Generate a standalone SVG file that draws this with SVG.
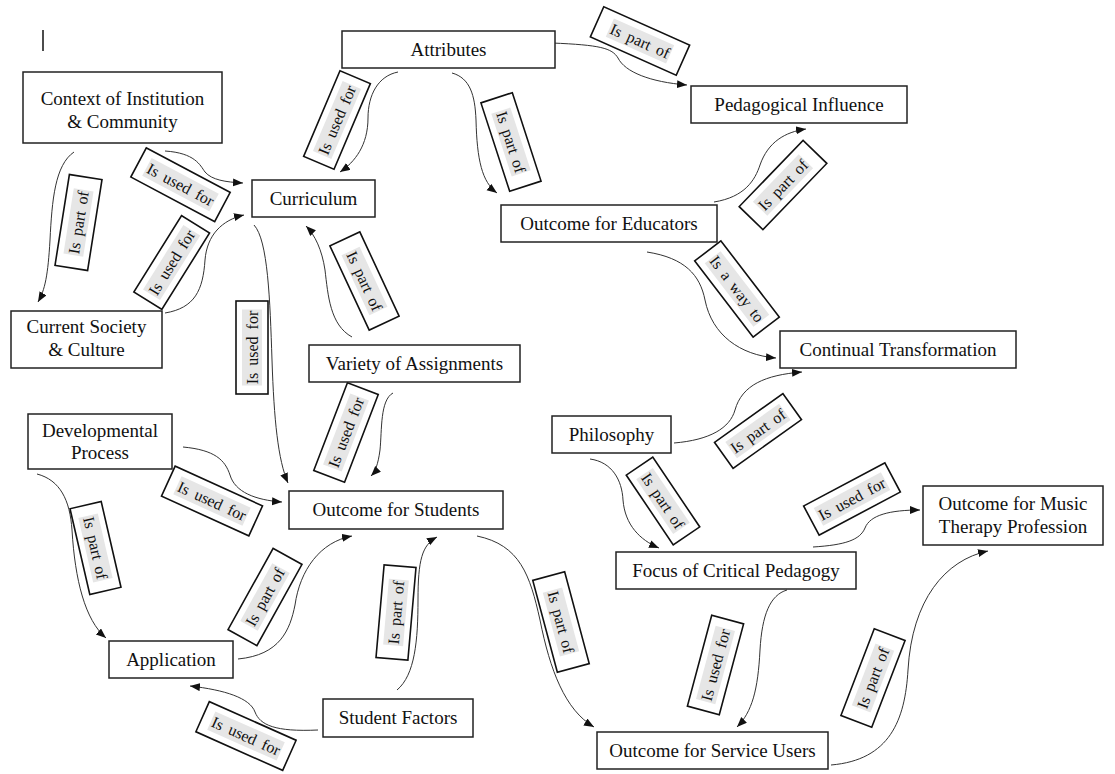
<svg xmlns="http://www.w3.org/2000/svg" width="1115" height="774" viewBox="0 0 1115 774">
<style>
.nb{fill:#fff;stroke:#222;stroke-width:1.5}
.nt{font-family:"Liberation Serif","Times New Roman",serif;font-size:19px;fill:#111;text-anchor:middle}
.lb{fill:#fff;stroke:#111;stroke-width:1.6}
.hl{fill:#e6e6e6}
.lt{font-family:"Liberation Serif","Times New Roman",serif;font-size:16px;fill:#111;text-anchor:middle;word-spacing:3px}
.cn{fill:none;stroke:#333;stroke-width:1;marker-end:url(#ah)}
</style>
<defs>
<marker id="ah" markerUnits="userSpaceOnUse" markerWidth="11" markerHeight="9" refX="10" refY="4" orient="auto" viewBox="0 0 11 9">
<path d="M0,0 L10,4 L0,8 z" fill="#111"/>
</marker>
</defs>
<rect width="1115" height="774" fill="#fff"/>
<line x1="43" y1="30" x2="43" y2="51" stroke="#111" stroke-width="1.5"/>

<g id="connectors">
<path class="cn" d="M398,72 C378,76 368,95 368,118 C368,145 355,162 340,172"/>
<path class="cn" d="M452,73 C470,78 475,95 476,120 C477,160 482,182 497,193"/>
<path class="cn" d="M552,43 C600,45 612,48 618,58 C625,72 650,82 687,85"/>
<path class="cn" d="M165,151 C195,153 200,165 205,172 C212,180 225,182 243,183"/>
<path class="cn" d="M165,313 C195,308 203,290 205,260 C207,235 222,220 244,215"/>
<path class="cn" d="M74,152 C55,165 52,200 50,240 C48,275 45,290 38,302"/>
<path class="cn" d="M254,225 C268,240 270,300 272,360 C274,420 278,460 288,483"/>
<path class="cn" d="M352,337 C330,325 328,295 325,270 C322,250 315,235 306,226"/>
<path class="cn" d="M393,393 C380,400 382,430 380,450 C378,465 375,472 371,476"/>
<path class="cn" d="M183,447 C215,450 225,460 230,475 C235,492 255,500 282,502"/>
<path class="cn" d="M37,474 C60,480 70,500 72,530 C75,580 85,620 106,638"/>
<path class="cn" d="M238,659 C280,655 290,630 295,605 C300,570 320,542 352,536"/>
<path class="cn" d="M397,690 C415,675 418,640 418,600 C418,560 422,545 437,537"/>
<path class="cn" d="M318,730 C275,732 260,725 255,712 C250,698 225,690 190,686"/>
<path class="cn" d="M477,536 C520,545 530,575 540,620 C550,670 565,710 594,727"/>
<path class="cn" d="M714,202 C745,197 755,180 760,165 C768,142 785,132 806,129"/>
<path class="cn" d="M647,252 C685,258 700,275 705,300 C712,335 740,355 776,358"/>
<path class="cn" d="M674,443 C710,440 730,428 735,410 C742,385 765,375 802,372"/>
<path class="cn" d="M590,459 C612,462 622,480 623,500 C625,525 640,540 659,548"/>
<path class="cn" d="M813,547 C845,545 860,540 865,528 C870,515 890,510 920,510"/>
<path class="cn" d="M787,590 C770,595 762,615 760,650 C758,690 752,712 737,727"/>
<path class="cn" d="M831,765 C890,760 905,720 908,670 C912,600 945,560 988,551"/>

<g transform="translate(337,120) rotate(-67)"><rect class="lb" x="-46.5" y="-16.5" width="93" height="33"/><rect class="hl" x="-38" y="-10" width="76" height="20"/><text class="lt" y="5.5">Is used for</text></g>
<g transform="translate(511,142) rotate(72)"><rect class="lb" x="-46.5" y="-16.5" width="93" height="33"/><rect class="hl" x="-33" y="-10" width="66" height="20"/><text class="lt" y="5.5">Is part of</text></g>
<g transform="translate(640,41) rotate(24)"><rect class="lb" x="-47" y="-16.5" width="94" height="33"/><rect class="hl" x="-33" y="-10" width="66" height="20"/><text class="lt" y="5.5">Is part of</text></g>
<g transform="translate(180.5,184.7) rotate(28)"><rect class="lb" x="-47.5" y="-16.5" width="95" height="33"/><rect class="hl" x="-38" y="-10" width="76" height="20"/><text class="lt" y="5.5">Is used for</text></g>
<g transform="translate(171.7,262.5) rotate(-58)"><rect class="lb" x="-45" y="-16.5" width="90" height="33"/><rect class="hl" x="-38" y="-10" width="76" height="20"/><text class="lt" y="5.5">Is used for</text></g>
<g transform="translate(78.5,222.5) rotate(-81)"><rect class="lb" x="-46" y="-16.5" width="92" height="33"/><rect class="hl" x="-33" y="-10" width="66" height="20"/><text class="lt" y="5.5">Is part of</text></g>
<g transform="translate(252,347.5) rotate(-90)"><rect class="lb" x="-46.5" y="-16" width="93" height="32"/><rect class="hl" x="-38" y="-10" width="76" height="20"/><text class="lt" y="5.5">Is used for</text></g>
<g transform="translate(364.5,281) rotate(65)"><rect class="lb" x="-46.5" y="-16.5" width="93" height="33"/><rect class="hl" x="-33" y="-10" width="66" height="20"/><text class="lt" y="5.5">Is part of</text></g>
<g transform="translate(346,432.5) rotate(-69)"><rect class="lb" x="-47" y="-16.5" width="94" height="33"/><rect class="hl" x="-38" y="-10" width="76" height="20"/><text class="lt" y="5.5">Is used for</text></g>
<g transform="translate(212,501) rotate(24.5)"><rect class="lb" x="-48" y="-16.5" width="96" height="33"/><rect class="hl" x="-38" y="-10" width="76" height="20"/><text class="lt" y="5.5">Is used for</text></g>
<g transform="translate(95.5,548) rotate(77)"><rect class="lb" x="-44" y="-16" width="88" height="32"/><rect class="hl" x="-33" y="-10" width="66" height="20"/><text class="lt" y="5.5">Is part of</text></g>
<g transform="translate(265,597) rotate(-61)"><rect class="lb" x="-46.5" y="-16.5" width="93" height="33"/><rect class="hl" x="-33" y="-10" width="66" height="20"/><text class="lt" y="5.5">Is part of</text></g>
<g transform="translate(396,612.5) rotate(-85)"><rect class="lb" x="-46.5" y="-16" width="93" height="32"/><rect class="hl" x="-33" y="-10" width="66" height="20"/><text class="lt" y="5.5">Is part of</text></g>
<g transform="translate(246,736) rotate(24)"><rect class="lb" x="-47.5" y="-16.5" width="95" height="33"/><rect class="hl" x="-38" y="-10" width="76" height="20"/><text class="lt" y="5.5">Is used for</text></g>
<g transform="translate(561,622) rotate(75)"><rect class="lb" x="-47.5" y="-16.5" width="95" height="33"/><rect class="hl" x="-33" y="-10" width="66" height="20"/><text class="lt" y="5.5">Is part of</text></g>
<g transform="translate(783,185) rotate(-46)"><rect class="lb" x="-46" y="-16.5" width="92" height="33"/><rect class="hl" x="-33" y="-10" width="66" height="20"/><text class="lt" y="5.5">Is part of</text></g>
<g transform="translate(737,289) rotate(52.5)"><rect class="lb" x="-48" y="-16.5" width="96" height="33"/><rect class="hl" x="-40" y="-10" width="80" height="20"/><text class="lt" y="5.5">Is a way to</text></g>
<g transform="translate(758,431) rotate(-35.5)"><rect class="lb" x="-42" y="-16" width="84" height="32"/><rect class="hl" x="-33" y="-10" width="66" height="20"/><text class="lt" y="5.5">Is part of</text></g>
<g transform="translate(663,501) rotate(56)"><rect class="lb" x="-42" y="-16" width="84" height="32"/><rect class="hl" x="-33" y="-10" width="66" height="20"/><text class="lt" y="5.5">Is part of</text></g>
<g transform="translate(852,499) rotate(-28)"><rect class="lb" x="-46" y="-16.5" width="92" height="33"/><rect class="hl" x="-38" y="-10" width="76" height="20"/><text class="lt" y="5.5">Is used for</text></g>
<g transform="translate(715.5,665) rotate(-75)"><rect class="lb" x="-47" y="-16.5" width="94" height="33"/><rect class="hl" x="-38" y="-10" width="76" height="20"/><text class="lt" y="5.5">Is used for</text></g>
<g transform="translate(873,678) rotate(-69)"><rect class="lb" x="-46.5" y="-16.5" width="93" height="33"/><rect class="hl" x="-33" y="-10" width="66" height="20"/><text class="lt" y="5.5">Is part of</text></g>
</g>

<g id="attributes"><rect class="nb" x="342" y="31" width="213" height="37"/><text class="nt" x="448.5" y="56">Attributes</text></g>
<g id="context"><rect class="nb" x="23" y="72" width="199" height="71"/><text class="nt" x="122.5" y="105">Context of Institution</text><text class="nt" x="122.5" y="128">&amp; Community</text></g>
<g id="curriculum"><rect class="nb" x="252" y="180" width="123" height="37"/><text class="nt" x="313.5" y="205">Curriculum</text></g>
<g id="pedagogical-influence"><rect class="nb" x="691" y="86" width="216" height="37"/><text class="nt" x="799" y="111">Pedagogical Influence</text></g>
<g id="outcome-educators"><rect class="nb" x="501" y="205" width="216" height="37"/><text class="nt" x="609" y="230">Outcome for Educators</text></g>
<g id="continual-transformation"><rect class="nb" x="780" y="331" width="236" height="37"/><text class="nt" x="898" y="356">Continual Transformation</text></g>
<g id="current-society"><rect class="nb" x="11" y="311" width="151" height="57"/><text class="nt" x="86.5" y="333">Current Society</text><text class="nt" x="86.5" y="356">&amp; Culture</text></g>
<g id="variety-assignments"><rect class="nb" x="309" y="345" width="211" height="37"/><text class="nt" x="414.5" y="370">Variety of Assignments</text></g>
<g id="developmental-process"><rect class="nb" x="28" y="414" width="144" height="55"/><text class="nt" x="100" y="437">Developmental</text><text class="nt" x="100" y="459">Process</text></g>
<g id="outcome-students"><rect class="nb" x="289" y="491" width="214" height="38"/><text class="nt" x="396" y="516">Outcome for Students</text></g>
<g id="philosophy"><rect class="nb" x="552" y="416" width="119" height="37"/><text class="nt" x="611.5" y="441">Philosophy</text></g>
<g id="outcome-music-therapy"><rect class="nb" x="923" y="486" width="180" height="59"/><text class="nt" x="1013" y="510">Outcome for Music</text><text class="nt" x="1013" y="533">Therapy Profession</text></g>
<g id="focus-critical-pedagogy"><rect class="nb" x="616" y="552" width="240" height="37"/><text class="nt" x="736" y="577">Focus of Critical Pedagogy</text></g>
<g id="application"><rect class="nb" x="109" y="641" width="124" height="37"/><text class="nt" x="171" y="666">Application</text></g>
<g id="student-factors"><rect class="nb" x="323" y="699" width="150" height="38"/><text class="nt" x="398" y="724">Student Factors</text></g>
<g id="outcome-service-users"><rect class="nb" x="597" y="732" width="231" height="37"/><text class="nt" x="712.5" y="757">Outcome for Service Users</text></g>
</svg>
